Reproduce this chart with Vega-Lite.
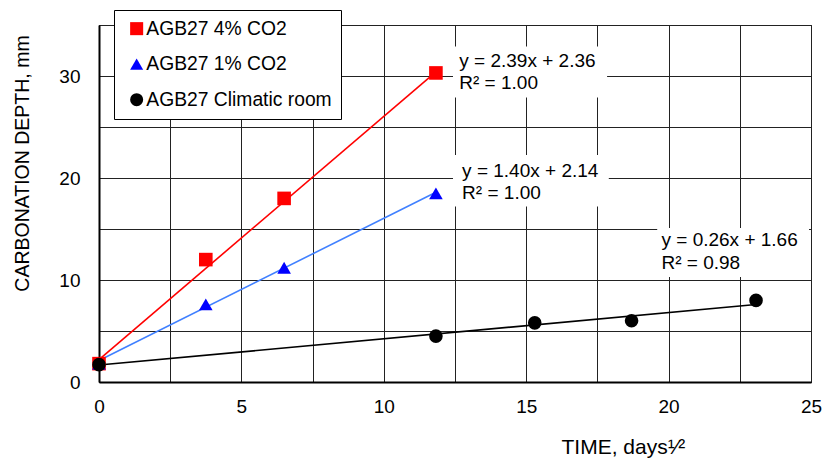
{
  "$schema": "https://vega.github.io/schema/vega-lite/v6.json",
  "autosize": {"type": "none"},
  "width": 712,
  "height": 357,
  "padding": {"left": 99, "top": 25, "right": 12, "bottom": 82},
  "background": "white",
  "config": {
    "font": "Liberation Sans",
    "view": {"stroke": "#000000", "strokeWidth": 1},
    "axis": {
      "labelFont": "Liberation Sans",
      "titleFont": "Liberation Sans",
      "labelFontSize": 19,
      "titleFontSize": 19,
      "labelColor": "#000000",
      "titleColor": "#000000",
      "titleFontWeight": "normal",
      "domainColor": "#000000",
      "domainWidth": 2,
      "gridColor": "#222222",
      "gridWidth": 1,
      "gridOpacity": 1,
      "ticks": false
    },
    "legend": {
      "labelFont": "Liberation Sans",
      "labelFontSize": 19.3,
      "labelColor": "#000000"
    }
  },
  "datasets": {
    "points": [
      {"series": "AGB27 4% CO2", "time": 0, "depth": 1.8},
      {"series": "AGB27 4% CO2", "time": 3.75, "depth": 12.0},
      {"series": "AGB27 4% CO2", "time": 6.5, "depth": 18.0},
      {"series": "AGB27 4% CO2", "time": 11.83, "depth": 30.3},
      {"series": "AGB27 1% CO2", "time": 0, "depth": 1.8},
      {"series": "AGB27 1% CO2", "time": 3.75, "depth": 7.6},
      {"series": "AGB27 1% CO2", "time": 6.5, "depth": 11.2},
      {"series": "AGB27 1% CO2", "time": 11.83, "depth": 18.5},
      {"series": "AGB27 Climatic room", "time": 0, "depth": 1.7},
      {"series": "AGB27 Climatic room", "time": 11.83, "depth": 4.5},
      {"series": "AGB27 Climatic room", "time": 15.3, "depth": 5.8},
      {"series": "AGB27 Climatic room", "time": 18.7, "depth": 6.0},
      {"series": "AGB27 Climatic room", "time": 23.07, "depth": 8.0}
    ],
    "trend": [
      {"fit": "4% CO2 fit", "time": 0, "depth": 2.2},
      {"fit": "4% CO2 fit", "time": 11.83, "depth": 30.4},
      {"fit": "1% CO2 fit", "time": 0, "depth": 2.1},
      {"fit": "1% CO2 fit", "time": 11.83, "depth": 18.6},
      {"fit": "Climatic room fit", "time": 0, "depth": 1.66},
      {"fit": "Climatic room fit", "time": 23.07, "depth": 7.6}
    ],
    "boxes": [
      {"x1": 12.43, "x2": 17.84, "y1": 27.9, "y2": 32.9},
      {"x1": 12.43, "x2": 17.9, "y1": 17.2, "y2": 22.25},
      {"x1": 19.6, "x2": 24.93, "y1": 10.3, "y2": 15.1}
    ],
    "labels": [
      {"x": 12.65, "y": 31.5, "text": "y = 2.39x + 2.36"},
      {"x": 12.65, "y": 29.35, "text": "R² = 1.00"},
      {"x": 12.75, "y": 20.7, "text": "y = 1.40x + 2.14"},
      {"x": 12.75, "y": 18.55, "text": "R² = 1.00"},
      {"x": 19.75, "y": 13.9, "text": "y = 0.26x + 1.66"},
      {"x": 19.75, "y": 11.65, "text": "R² = 0.98"}
    ]
  },
  "layer": [
    {
      "data": {"name": "boxes"},
      "mark": {"type": "rect", "fill": "white", "stroke": null},
      "encoding": {
        "x": {
          "field": "x1", "type": "quantitative",
          "scale": {"domain": [0, 25], "nice": false},
          "axis": {
            "values": [0, 2.5, 5, 7.5, 10, 12.5, 15, 17.5, 20, 22.5, 25],
            "labelExpr": "datum.value % 5 === 0 ? datum.label : ''",
            "labelPadding": 15,
            "labelFlush": false,
            "title": "TIME, days¹⁄²",
            "titleFontSize": 21,
            "titleX": 462,
            "titleY": 65,
            "titleAlign": "left",
            "titleBaseline": "middle",
            "grid": true
          }
        },
        "x2": {"field": "x2"},
        "y": {
          "field": "y1", "type": "quantitative",
          "scale": {"domain": [0, 35], "nice": false},
          "axis": {
            "values": [0, 5, 10, 15, 20, 25, 30, 35],
            "labelExpr": "(datum.value % 10 === 0 && datum.value < 35) ? datum.label : ''",
            "labelPadding": 19,
            "labelFlush": false,
            "title": "CARBONATION DEPTH, mm",
            "titleFontSize": 19.5,
            "titleX": -77,
            "titleY": 138,
            "titleAngle": -90,
            "titleAlign": "center",
            "titleBaseline": "middle",
            "grid": true
          }
        },
        "y2": {"field": "y2"}
      }
    },
    {
      "data": {"name": "trend"},
      "mark": {"type": "line", "strokeWidth": 1.6},
      "encoding": {
        "x": {"field": "time", "type": "quantitative"},
        "y": {"field": "depth", "type": "quantitative"},
        "detail": {"field": "fit"},
        "stroke": {
          "field": "fit", "type": "nominal",
          "scale": {
            "domain": ["4% CO2 fit", "1% CO2 fit", "Climatic room fit"],
            "range": ["#ff0000", "#4080ff", "#000000"]
          },
          "legend": null
        }
      }
    },
    {
      "data": {"name": "points"},
      "mark": {"type": "point", "filled": true, "opacity": 1, "size": 185, "strokeWidth": 0},
      "encoding": {
        "x": {"field": "time", "type": "quantitative"},
        "y": {"field": "depth", "type": "quantitative"},
        "color": {
          "field": "series", "type": "nominal",
          "scale": {
            "domain": ["AGB27 4% CO2", "AGB27 1% CO2", "AGB27 Climatic room"],
            "range": ["#ff0000", "#0000ff", "#000000"]
          },
          "legend": {
            "title": null,
            "orient": "none",
            "legendX": 15,
            "legendY": -15,
            "fillColor": "white",
            "strokeColor": "#000000",
            "padding": 9,
            "rowPadding": 15.5,
            "symbolSize": 170,
            "symbolOffset": 4,
            "labelOffset": 0,
            "symbolStrokeWidth": 0,
            "labelLimit": 400
          }
        },
        "shape": {
          "field": "series", "type": "nominal",
          "scale": {
            "domain": ["AGB27 4% CO2", "AGB27 1% CO2", "AGB27 Climatic room"],
            "range": ["square", "triangle-up", "circle"]
          },
          "legend": {
            "title": null,
            "orient": "none",
            "legendX": 15,
            "legendY": -15,
            "fillColor": "white",
            "strokeColor": "#000000",
            "padding": 9,
            "rowPadding": 15.5,
            "symbolSize": 170,
            "symbolOffset": 4,
            "labelOffset": 0,
            "symbolStrokeWidth": 0,
            "labelLimit": 400
          }
        }
      }
    },
    {
      "data": {"name": "labels"},
      "mark": {"type": "text", "align": "left", "baseline": "middle", "fontSize": 19, "font": "Liberation Sans", "color": "#000000"},
      "encoding": {
        "x": {"field": "x", "type": "quantitative"},
        "y": {"field": "y", "type": "quantitative"},
        "text": {"field": "text"}
      }
    }
  ]
}
